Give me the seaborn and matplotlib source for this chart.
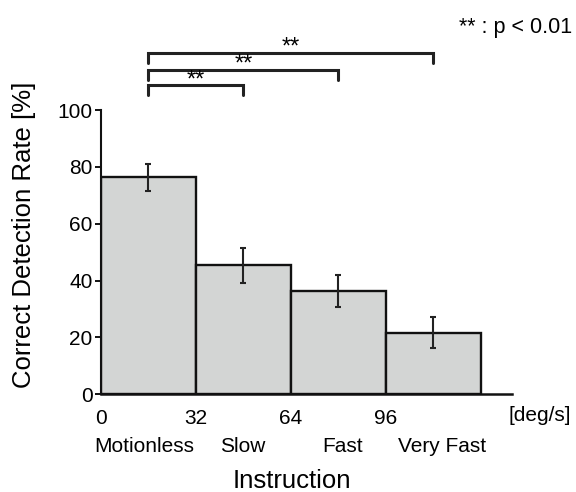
import matplotlib
matplotlib.use("Agg")
import matplotlib.pyplot as plt
import seaborn as sns
import pandas as pd

# data
bar_centers = [16, 48, 80, 112]          # deg/s, bins 0-32, 32-64, 64-96, 96-128
rates = [76.3, 45.3, 36.3, 21.6]         # correct detection rate [%]
errs = [4.6, 6.0, 5.6, 5.4]
instructions = ["Motionless", "Slow", "Fast", "Very Fast"]
speed_ticks = [0, 32, 64, 96]
# significance brackets: (left x, right x, line height)
pairs = [(16, 48, 108.8), (16, 80, 114.3), (16, 112, 120.3)]

sns.set_style("ticks")
plt.rcParams["font.family"] = ["Liberation Sans", "DejaVu Sans"]
plt.rcParams.update({"text.color": "black", "axes.labelcolor": "black",
                     "xtick.color": "black", "ytick.color": "black",
                     "axes.edgecolor": "#111111"})

df = pd.DataFrame({"speed": bar_centers, "rate": rates})

fig = plt.figure(figsize=(5.76, 4.92), dpi=100)
ax = fig.add_axes([0.175, 0.199, 0.714, 0.577])

sns.barplot(data=df, x="speed", y="rate", native_scale=True, width=1,
            color="#d3d5d4", edgecolor="#111111", linewidth=1.7,
            errorbar=None, ax=ax)
for p in ax.patches:
    p.set_facecolor("#d3d5d4")
ax.errorbar(bar_centers, rates, yerr=errs, fmt="none", ecolor="#222222",
            elinewidth=1.5, capsize=2.5, capthick=1.5)

ax.set_xlim(0, 138.5)
ax.set_ylim(0, 100)
ax.set_yticks([0, 20, 40, 60, 80, 100])
ax.set_xticks(speed_ticks)
ax.set_xticklabels([str(t) for t in speed_ticks])
ax.tick_params(axis="x", length=0, pad=11, labelsize=15)
ax.tick_params(axis="y", length=4, width=1.3, pad=2, labelsize=15)
sns.despine(ax=ax)
ax.spines["left"].set_linewidth(1.5)
ax.spines["bottom"].set_linewidth(1.8)
ax.set_xlabel("")
ax.set_ylabel("Correct Detection Rate [%]", fontsize=18.5)
ax.yaxis.set_label_coords(-0.158, 0.56)

ax.text(147.8, -9.6, "[deg/s]", ha="center", va="baseline", fontsize=15,
        clip_on=False)
label_x = [14.5, 47.7, 81.4, 114.9]
for lx, name in zip(label_x, instructions):
    ax.text(lx, -20.4, name, ha="center", va="baseline", fontsize=15,
            clip_on=False)
ax.text(64.3, -33.2, "Instruction", ha="center", va="baseline", fontsize=18.5,
        clip_on=False)

for x1, x2, h in pairs:
    ax.plot([x1, x1, x2, x2], [h - 3.5, h, h, h - 3.5], color="#222222",
            lw=2.2, clip_on=False, solid_joinstyle="miter")
    ax.text((x1 + x2) / 2, h - 0.4, "**", ha="center", va="baseline",
            fontsize=17, clip_on=False)

fig.text(0.993, 1 - 33 / 492, "** : p < 0.01", ha="right", va="baseline",
         fontsize=15.5)

fig.savefig("out.png", dpi=100)
